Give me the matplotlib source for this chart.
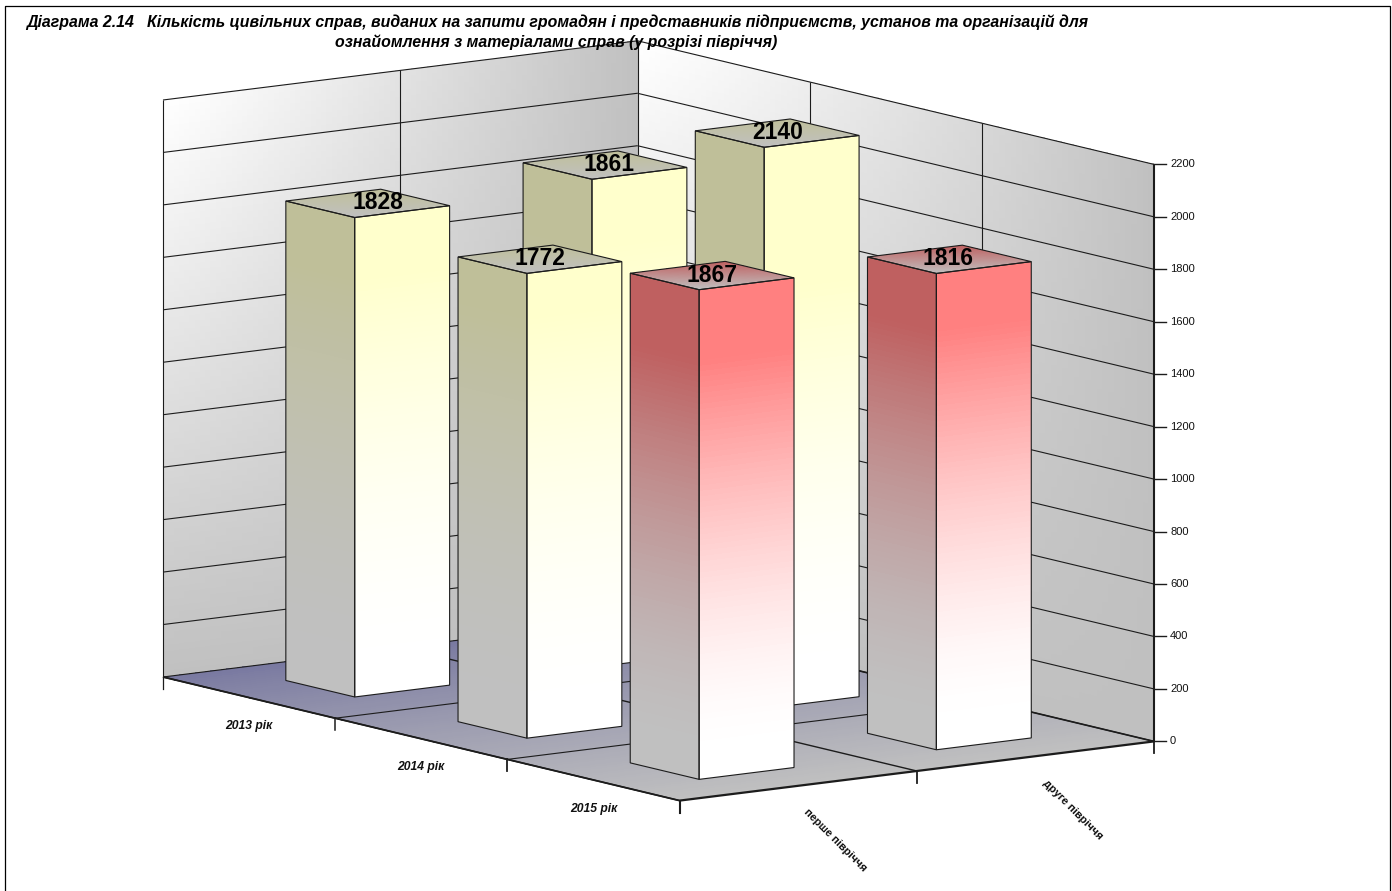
# 3D-looking column chart, drawn on a flat axes through one small projection.
import numpy as np
import matplotlib
matplotlib.use("Agg")
import matplotlib.pyplot as plt
from matplotlib.patches import Polygon

plt.rcParams["font.family"] = ["Liberation Sans", "DejaVu Sans"]

# --- Data -------------------------------------------------------------
years = ["2013 рік", "2014 рік", "2015 рік"]
halves = ["перше півріччя", "друге півріччя"]
first_half = [1828, 1772, 1867]
second_half = [1861, 2140, 1816]
value_ticks = [0, 200, 400, 600, 800, 1000, 1200, 1400, 1600, 1800, 2000, 2200]
title_lines = [
    "Діаграма 2.14   Кількість цивільних справ, виданих на запити громадян і представників підприємств, установ та організацій для",
    "ознайомлення з матеріалами справ (у розрізі півріччя)",
]

# --- Projection (pixels of the picture) -------------------------------
ORIGIN = np.array([163.0, 677.0])
HALF_STEP = np.array([237.25, -29.6])
YEAR_STEP = np.array([172.2, 41.2])
VALUE_MAX = 2200
HEIGHT = 577.0
BAR_GAP = 0.3
LINE = "#1c1c1c"
GREY = np.array([0.753, 0.753, 0.753])
# the value labels of the back row sit a little off centre
LABEL_NUDGE = {(0, 0): 10, (1, 0): 4, (1, 1): 1, (1, 2): -1}


def project(u, v, value):
    x = ORIGIN[0] + HALF_STEP[0] * u + YEAR_STEP[0] * v
    y = ORIGIN[1] + HALF_STEP[1] * u + YEAR_STEP[1] * v - HEIGHT * np.asarray(value) / VALUE_MAX
    return x, y


def draw_line(ax, a, b, lw=0.8, color=LINE, z=3):
    xa, ya = project(*a)
    xb, yb = project(*b)
    ax.plot([xa, xb], [ya, yb], color=color, lw=lw, zorder=z, solid_capstyle="butt")


def shaded_face(ax, corner, along, up, color_fn, z, n=90):
    # corner + along*s + up*t, colour picked per cell
    s = np.linspace(0, 1, n + 1)
    t = np.linspace(0, 1, n + 1)
    S, T = np.meshgrid(s, t)
    U = corner[0] + along[0] * S + up[0] * T
    V = corner[1] + along[1] * S + up[1] * T
    W = corner[2] + along[2] * S + up[2] * T
    X, Y = project(U, V, W)
    mid_s = (S[:-1, :-1] + S[1:, 1:]) / 2
    mid_t = (T[:-1, :-1] + T[1:, 1:]) / 2
    mid_w = (W[:-1, :-1] + W[1:, 1:]) / 2
    rgb = color_fn(mid_s, mid_t, mid_w)
    ax.pcolormesh(X, Y, rgb, shading="flat", antialiased=False, linewidth=0, zorder=z)
    corners = [(0, 0), (1, 0), (1, 1), (0, 1)]
    pts = [project(corner[0] + along[0] * a + up[0] * b,
                   corner[1] + along[1] * a + up[1] * b,
                   corner[2] + along[2] * a + up[2] * b) for a, b in corners]
    return pts


def wall_color(s, t, w):
    side = s ** 1.15
    low = 1 - w / VALUE_MAX
    shade = 1 - (1 - side) * (1 - low)
    g = (255 - 63 * shade) / 255
    return np.dstack([g, g, g])


def floor_color(s, t, w):
    # s runs from the back wall (blue) to the front edge (grey)
    k = (s ** 0.85)[..., None]
    return (1 - k) * np.array([120, 120, 160]) / 255 + k * np.array([192, 192, 192]) / 255


def fade(value):
    return (np.clip((value - 100) / 1500.0, 0, 1) ** 1.6)[..., None]


def front_color(face):
    def fn(s, t, w):
        k = fade(w)
        return (1 - k) * np.array([1.0, 1.0, 1.0]) + k * np.array(face)
    return fn


def side_color(face):
    dark = np.array(face) * 0.75
    def fn(s, t, w):
        k = fade(w)
        return (1 - k) * GREY + k * dark
    return fn


def top_color(face):
    dark = np.array(face) * 0.75
    def fn(s, t, w):
        # goes with the height on screen: back corner coloured, front corner grey
        k = ((YEAR_STEP[1] * s + -HALF_STEP[1] * t) / (YEAR_STEP[1] - HALF_STEP[1]))[..., None]
        return (1 - k) * dark + k * GREY
    return fn


YELLOW = (1.0, 1.0, 0.8)
RED = (1.0, 0.5, 0.5)
bar_faces = [YELLOW, YELLOW, RED]

fig = plt.figure(figsize=(13.92, 8.91), dpi=100)
ax = fig.add_axes([0, 0, 1, 1])
ax.set_xlim(0, 1392)
ax.set_ylim(891, 0)
ax.axis("off")

n_years = len(years)
n_halves = len(halves)

# --- Walls and floor --------------------------------------------------
shaded_face(ax, (0, 0, 0), (n_halves, 0, 0), (0, 0, VALUE_MAX), wall_color, 1)
shaded_face(ax, (n_halves, 0, 0), (0, n_years, 0), (0, 0, VALUE_MAX), wall_color, 1)
shaded_face(ax, (0, 0, 0), (0, n_years, 0), (n_halves, 0, 0), floor_color, 1)

# grid lines on the walls
for val in value_ticks:
    draw_line(ax, (0, 0, val), (n_halves, 0, val))
    draw_line(ax, (n_halves, 0, val), (n_halves, n_years, val))
for u in range(n_halves):
    draw_line(ax, (u, 0, 0), (u, 0, VALUE_MAX))
    draw_line(ax, (u, 0, 0), (u, n_years, 0), lw=1.0)
draw_line(ax, (n_halves, 0, 0), (n_halves, 0, VALUE_MAX))
for v in range(1, n_years):
    draw_line(ax, (n_halves, v, 0), (n_halves, v, VALUE_MAX))
    draw_line(ax, (0, v, 0), (n_halves, v, 0))

# --- Bars, back to front ----------------------------------------------
series = [first_half, second_half]
width = 1 - 2 * BAR_GAP
for v in range(n_years):
    for u in range(n_halves - 1, -1, -1):
        value = series[u][v]
        face = bar_faces[v]
        u0, v0 = u + BAR_GAP, v + BAR_GAP
        z = 5 + v * 2 + (1 - u)

        pts = shaded_face(ax, (u0, v0, 0), (0, width, 0), (0, 0, value), side_color(face), z)
        ax.add_patch(Polygon(pts, fill=False, edgecolor=LINE, lw=0.8, zorder=z + 0.1))
        pts = shaded_face(ax, (u0, v0 + width, 0), (width, 0, 0), (0, 0, value), front_color(face), z)
        ax.add_patch(Polygon(pts, fill=False, edgecolor=LINE, lw=0.8, zorder=z + 0.1))
        pts = shaded_face(ax, (u0 + width, v0, value), (0, width, 0), (-width, 0, 0), top_color(face), z, n=40)
        ax.add_patch(Polygon(pts, fill=False, edgecolor=LINE, lw=0.8, zorder=z + 0.1))

        x, y = project(u + 0.5, v + 0.5, value)
        ax.text(x + LABEL_NUDGE.get((u, v), 0), y - 0.5, str(value), ha="center", va="center",
                fontsize=16.5, fontweight="bold", color="black", zorder=30)

# --- Axes lines, ticks and labels -------------------------------------
draw_line(ax, (0, 0, 0), (0, n_years, 0), lw=1.3, z=4)
draw_line(ax, (0, n_years, 0), (n_halves, n_years, 0), lw=1.6, z=20)
draw_line(ax, (n_halves, n_years, 0), (n_halves, n_years, VALUE_MAX), lw=1.5, z=20)
draw_line(ax, (n_halves, 0, 0), (n_halves, n_years, 0), lw=1.2, z=4)

for val in value_ticks:
    x, y = project(n_halves, n_years, val)
    ax.plot([x, x + 12], [y, y], color=LINE, lw=1.0, zorder=20)
    ax.text(x + 16, y, str(val), ha="left", va="center", fontsize=8, color="#111111")

for v in range(n_years + 1):
    x, y = project(0, v, 0)
    ax.plot([x, x], [y, y + 12], color=LINE, lw=0.9 + 0.2 * v, zorder=20)
for u in range(1, n_halves + 1):
    x, y = project(u, n_years, 0)
    ax.plot([x, x], [y, y + 12], color=LINE, lw=1.3, zorder=20)

for v, label in enumerate(years):
    x, y = project(0, v + 0.5, 0)
    ax.text(x, y + 28.5, label, ha="center", va="center", fontsize=8.7,
            fontweight="bold", fontstyle="italic", color="#111111")
for u, label in enumerate(halves):
    x, y = project(u + 0.5, n_years, 0)
    ax.text(x + 37, y + 54, label, ha="center", va="center", fontsize=8, rotation=-45,
            fontweight="bold", rotation_mode="anchor", color="#111111")

# --- Title and frame --------------------------------------------------
ax.text(26, 22, title_lines[0], ha="left", va="center", fontsize=11.4,
        fontweight="bold", fontstyle="italic", color="black", zorder=40)
ax.text(556, 42, title_lines[1], ha="center", va="center", fontsize=11.4,
        fontweight="bold", fontstyle="italic", color="black", zorder=40)

ax.plot([5, 5, 1390, 1390], [891, 6, 6, 891], color="black", lw=0.9, zorder=40)

plt.savefig("out.png", dpi=100)
plt.close()
